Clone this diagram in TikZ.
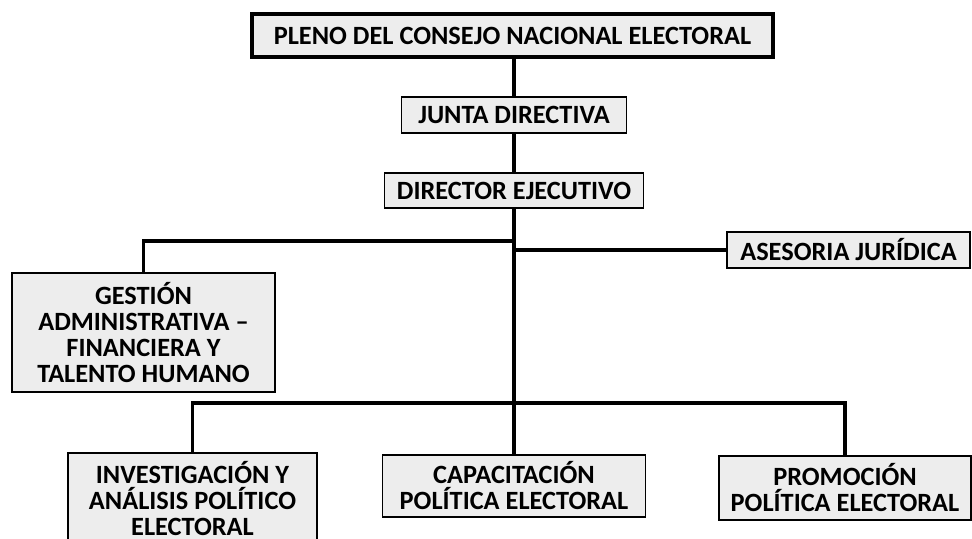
\documentclass[tikz,border=0pt]{standalone}
\usepackage{fontspec}
\setmainfont{Carlito}

\tikzset{
  unit/.style={draw,line width=0.8pt,fill=black!7,align=center,inner sep=0pt,
    font=\bfseries\fontsize{15}{14.8}\selectfont},
  link/.style={line width=1.8pt},
}

\begin{document}
\begin{tikzpicture}[x=0.02cm,y=-0.02cm]
      \useasboundingbox (0,0) rectangle (972,538);

      \node[unit,line width=2.4pt,minimum width=10.42cm,minimum height=0.86cm] (pleno) at (512.5,35.5) {PLENO DEL CONSEJO NACIONAL ELECTORAL};
      \node[unit,minimum width=4.5cm,minimum height=0.72cm] (junta) at (514,115) {JUNTA DIRECTIVA};
      \node[unit,minimum width=5.18cm,minimum height=0.7cm] (director) at (514,190.5) {DIRECTOR EJECUTIVO};
      \node[unit,minimum width=5.26cm,minimum height=2.38cm] (gestion) at (143.5,332.5) {GESTIÓN\\ADMINISTRATIVA –\\FINANCIERA Y\\TALENTO HUMANO};
      \node[unit,minimum width=4.86cm,minimum height=0.72cm] (asesoria) at (848.5,250) {ASESORIA JURÍDICA};
      \node[unit,minimum width=4.98cm,minimum height=1.8cm,text depth=0pt] (investigacion) at (192.5,498) {INVESTIGACIÓN Y\\ANÁLISIS POLÍTICO\\ELECTORAL};
      \node[unit,minimum width=5.26cm,minimum height=1.24cm] (capacitacion) at (514,486) {CAPACITACIÓN\\POLÍTICA ELECTORAL};
      \node[unit,minimum width=5.04cm,minimum height=1.28cm] (promocion) at (845,488) {PROMOCIÓN\\POLÍTICA ELECTORAL};

      \coordinate (split) at (514,241);
      \coordinate (aside) at (514,250);
      \coordinate (bus) at (514,403);

      \draw[link] (junta.north |- pleno.south) -- (junta.north);
      \draw[link] (junta.south) -- (director.north);
      \draw[link] (director.south) -- (bus);
      \draw[link] (split) -| (gestion.north);
      \draw[link] (aside) -- (asesoria.west);

      \foreach \n in {investigacion,capacitacion,promocion} {
        \draw[link] (bus) -| (\n.north);
      }
    \end{tikzpicture}
\end{document}
